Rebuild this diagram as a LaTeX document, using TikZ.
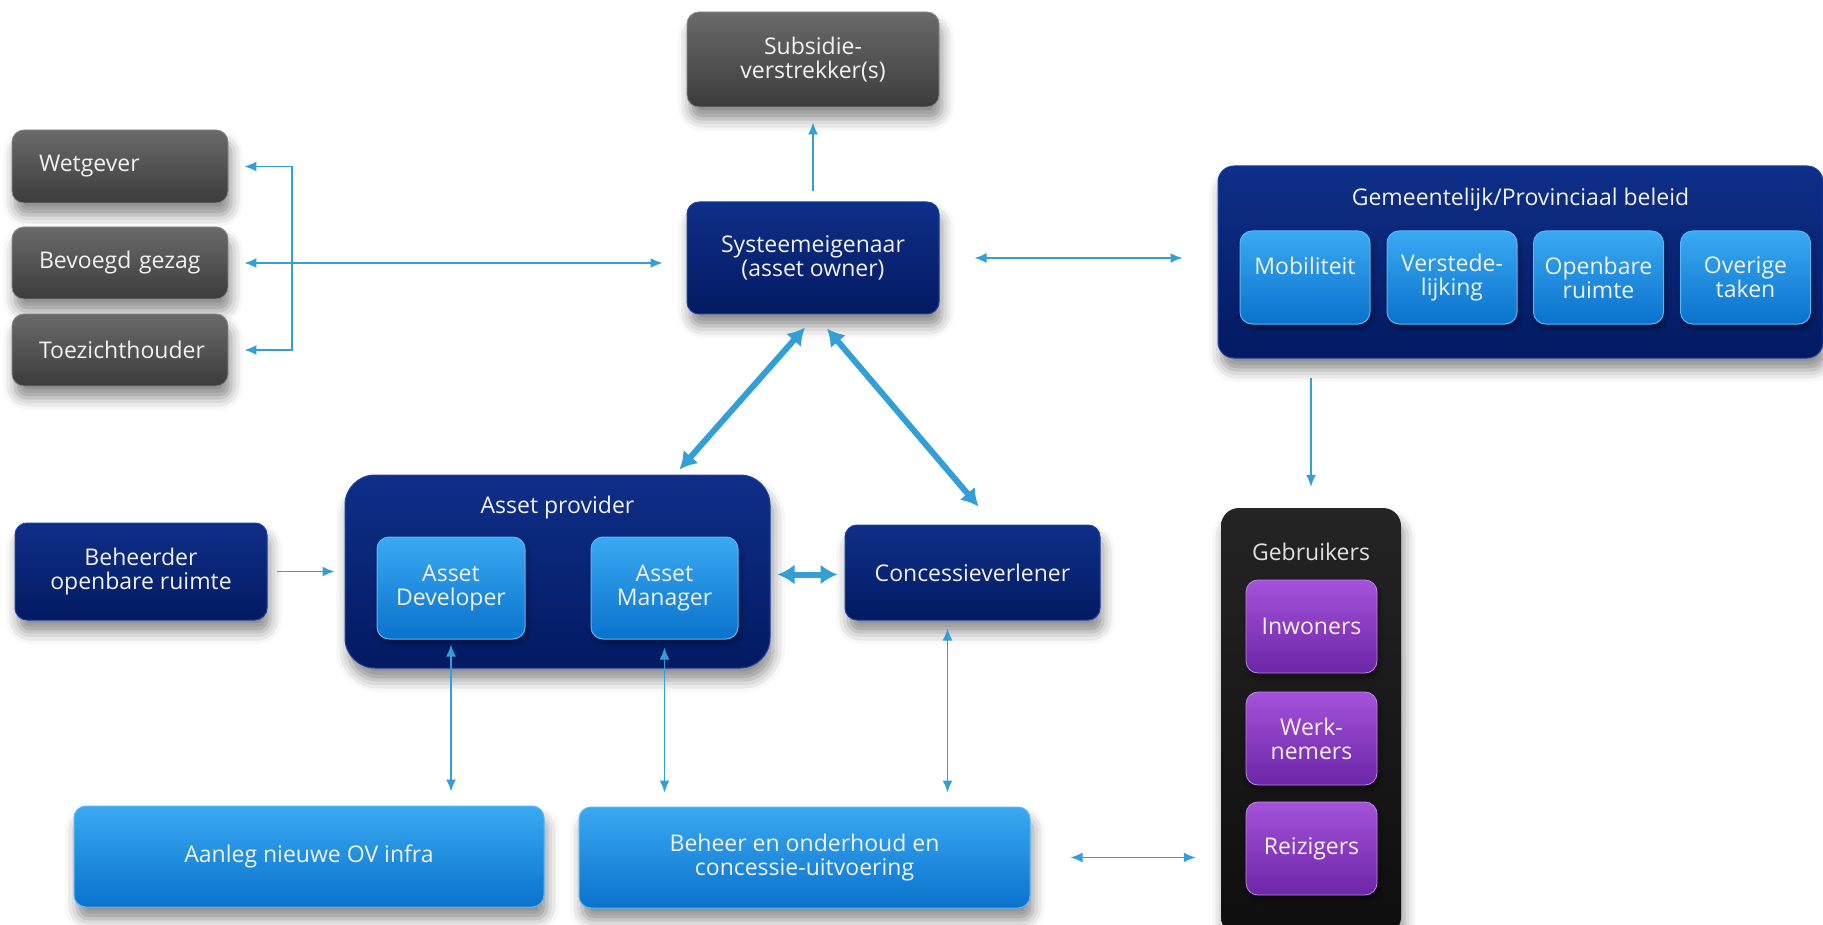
\documentclass[tikz,border=0pt]{standalone}
\usepackage{fontspec}
\setmainfont{Open Sans}
\usetikzlibrary{arrows.meta,shadows.blur}
\definecolor{navyTop}{HTML}{0E2F88}
\definecolor{navyBot}{HTML}{031A62}
\definecolor{navyRim}{HTML}{1C3FA0}
\definecolor{lightTop}{HTML}{3AA9F2}
\definecolor{lightBot}{HTML}{0A72CC}
\definecolor{lightRim}{HTML}{56B8F6}
\definecolor{greyTop}{HTML}{6A6A6A}
\definecolor{greyBot}{HTML}{3C3C3C}
\definecolor{purpTop}{HTML}{A452DA}
\definecolor{purpBot}{HTML}{6C26A6}
\definecolor{blkTop}{HTML}{242424}
\definecolor{blkBot}{HTML}{0E0E0E}
\definecolor{arrowc}{HTML}{339FD6}
\definecolor{txtw}{HTML}{F2F2F2}
\newcommand\fsz{\fontsize{23}{24}\selectfont}
\tikzset{
  base/.style={rounded corners=12pt, align=center, text=txtw, font=\fsz, inner sep=0pt},
  shad/.style={blur shadow={shadow xshift=3pt, shadow yshift=-12pt, shadow blur radius=12pt, shadow opacity=45}},
  smallshad/.style={blur shadow={shadow xshift=2pt, shadow yshift=-4pt, shadow blur radius=5pt, shadow opacity=40}},
  navy/.style={base, shad, top color=navyTop, bottom color=navyBot, draw=navyRim, line width=1pt},
  light/.style={base, top color=lightTop, bottom color=lightBot, draw=lightRim, line width=1pt},
  greyb/.style={base, shad, top color=greyTop, bottom color=greyBot, draw=greyTop!80!white, line width=0.8pt, align=left},
  purp/.style={base, smallshad, top color=purpTop, bottom color=purpBot, draw=purpTop!70!white, line width=0.8pt, text=white!92!purpTop},
  blk/.style={base, shad, top color=blkTop, bottom color=blkBot, rounded corners=18pt},
  lbl/.style={font=\fsz, text=txtw, inner sep=0pt},
  ln/.style={draw=arrowc, line width=1.6pt},
  one/.style={ln, -{Latex[length=12pt,width=10pt]}},
  two/.style={ln, {Latex[length=12pt,width=10pt]}-{Latex[length=12pt,width=10pt]}},
  thick2/.style={draw=arrowc, line width=6pt, {Latex[length=17pt,width=20pt]}-{Latex[length=17pt,width=20pt]}}
}
\begin{document}
\begin{tikzpicture}[x=1pt,y=-1pt]
\useasboundingbox (0,0) rectangle (1823,925);
% grey boxes
\node[greyb, minimum width=216pt, minimum height=73pt, text width=162pt] (wet) at (120,166.5) {Wetgever};
\node[greyb, minimum width=216pt, minimum height=72pt, text width=162pt] (bev) at (120,263) {Bevoegd gezag};
\node[greyb, minimum width=216pt, minimum height=72pt, text width=162pt] (toe) at (120,350) {Toezichthouder};
\node[greyb, align=center, minimum width=252pt, minimum height=95pt] (subs) at (813,59.5) {Subsidie-\\verstrekker(s)};
% owner
\node[navy, minimum width=252pt, minimum height=112pt] (sys) at (813,258) {Systeemeigenaar\\(asset owner)};
% gemeentelijk
\node[navy, rounded corners=16pt, minimum width=605pt, minimum height=192pt] (gem) at (1520.5,262) {};
\node[lbl] (gemT) at (1520.5,200) {Gemeentelijk/Provinciaal beleid};
\node[light, smallshad, minimum width=130pt, minimum height=93pt] (mob) at (1305,277.5) {Mobiliteit\\\phantom{x}};
\node[light, smallshad, minimum width=130pt, minimum height=93pt] (ver) at (1452,277.5) {Verstede-\\lijking};
\node[light, smallshad, minimum width=130pt, minimum height=93pt] (opr) at (1598.5,277.5) {Openbare\\ruimte};
\node[light, smallshad, minimum width=130pt, minimum height=93pt] (ovt) at (1745.5,277.5) {Overige\\taken};
% asset provider
\node[navy, rounded corners=30pt, minimum width=425pt, minimum height=193pt] (ap) at (557.5,571.5) {};
\node[lbl] (apT) at (557.5,508) {Asset provider};
\node[light, smallshad, minimum width=148pt, minimum height=102pt] (ad) at (451,588) {Asset\\Developer};
\node[light, smallshad, minimum width=147pt, minimum height=102pt] (am) at (664.5,588) {Asset\\Manager};
\node[navy, minimum width=252pt, minimum height=97pt] (beh) at (141,571.5) {Beheerder\\openbare ruimte};
\node[navy, minimum width=255pt, minimum height=95pt] (conc) at (972.5,572.5) {Concessieverlener};
% bottom
\node[light, shad, minimum width=470pt, minimum height=101pt] (aanl) at (309,856.5) {Aanleg nieuwe OV infra};
\node[light, shad, minimum width=451pt, minimum height=101pt] (beho) at (804.5,857.5) {Beheer en onderhoud en\\concessie-uitvoering};
% gebruikers
\node[blk, minimum width=180pt, minimum height=427pt] (geb) at (1311,721.5) {};
\node[lbl, text=white!88!black] (gebT) at (1311,552) {Gebruikers};
\node[purp, minimum width=131pt, minimum height=93pt] (inw) at (1311.5,626.5) {Inwoners};
\node[purp, minimum width=131pt, minimum height=93pt] (werk) at (1311.5,738.5) {Werk-\\nemers};
\node[purp, minimum width=131pt, minimum height=93pt] (reiz) at (1311.5,848.5) {Reizigers};
% connectors
\coordinate (brk) at (292,263);
\draw[two] ([xshift=16pt]wet.east) -| (brk) |- ([xshift=16pt]toe.east);
\draw[two] ([xshift=16pt]bev.east) -- ([xshift=-24pt]sys.west |- bev.east);
\draw[one] ([yshift=10pt]sys.north) -- ([yshift=-15pt]subs.south);
\draw[two] ([xshift=35pt]sys.east) -- ([xshift=-35pt]sys.east -| gem.west);
\draw[thick2] ([xshift=-8pt,yshift=-13pt]sys.south) -- ([xshift=122pt,yshift=5pt]ap.north);
\draw[thick2] ([xshift=14pt,yshift=-14pt]sys.south) -- ([xshift=6pt,yshift=18pt]conc.north);
\draw[one] ([yshift=-19pt]gem.south -| geb.north) -- ([yshift=21pt]geb.north);
\draw[one] ([xshift=9pt]beh.east) -- ([xshift=-10pt]ap.west |- beh.east);
\draw[thick2] ([xshift=7pt,yshift=-3pt]ap.east) -- ([xshift=-7pt,yshift=-3pt]ap.east -| conc.west);
\draw[two] ([yshift=-5pt]ad.south) -- ([yshift=14pt]ad.south |- aanl.north);
\draw[two] ([yshift=-8pt]am.south) -- ([yshift=14pt]am.south |- beho.north);
\coordinate (cx) at ([xshift=-25pt]conc.south);
\draw[two] ([yshift=-8pt]cx) -- ([yshift=14pt]cx |- beho.north);
\draw[two] ([xshift=40pt]beho.east) -- ([xshift=-25pt]beho.east -| geb.west);
\end{tikzpicture}
\end{document}
